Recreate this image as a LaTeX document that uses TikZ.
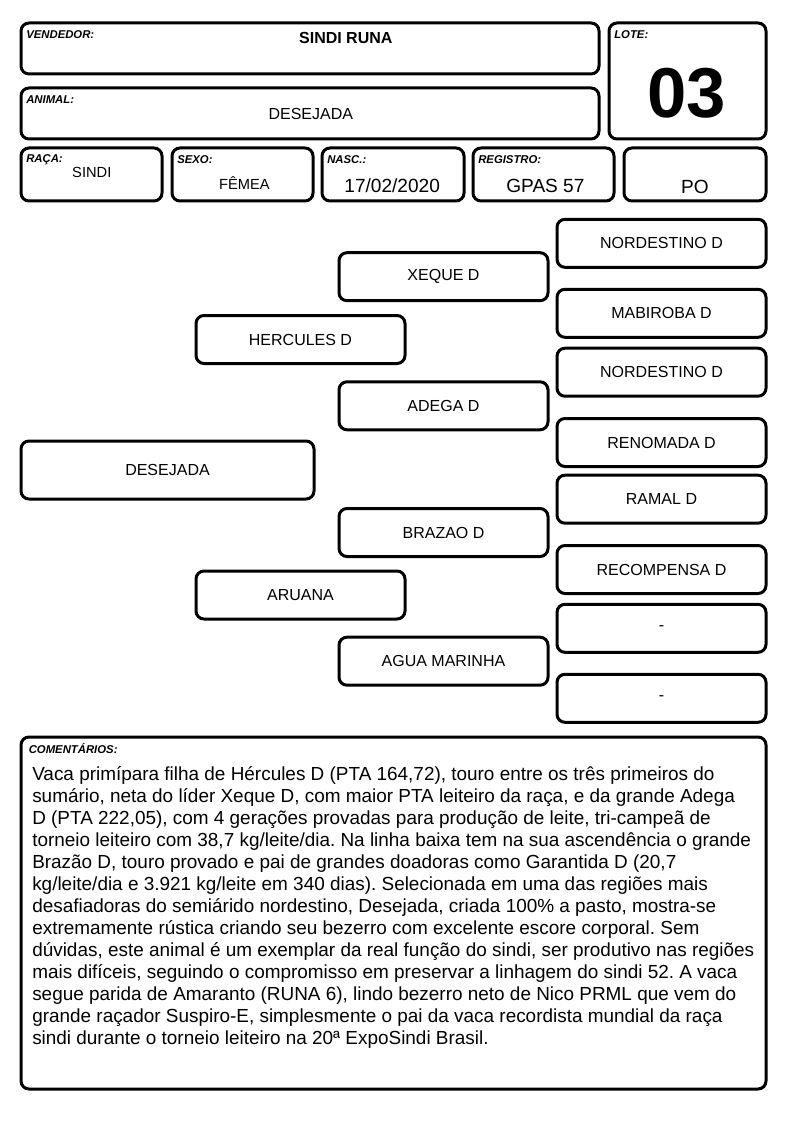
\documentclass[tikz,border=0pt]{standalone}
\usepackage{fontspec}
\setmainfont{Liberation Sans}
\usetikzlibrary{positioning}
\frenchspacing

\begin{document}
\begin{tikzpicture}[x=0.75pt, y=-0.75pt,
    every node/.style={inner sep=0pt},
    cell/.style={draw, line width=2.25pt, rounded corners=6pt},
    wh/.style 2 args={minimum width=#1*0.75pt, minimum height=#2*0.75pt},
    tag/.style={anchor=west, font=\fontsize{8.5}{10}\selectfont\bfseries\itshape},
    val/.style={anchor=base, font=\fontsize{14.3}{17}\selectfont},
    pedbox/.style={cell, wh={209}{48}, font=\fontsize{12}{14}\selectfont}]
        \useasboundingbox (0,0) rectangle (794,1123);

        % Header boxes
        \node[cell, wh={578}{51}] (vendedor) at (310,48.5) {};
        \node[cell, wh={157}{116}] (lote) at (687.5,81) {};
        \node[cell, wh={578}{51}] (animal) at (310,113.5) {};
        \node[cell, wh={141}{53}] (raca) at (91.5,174.5) {};
        \node[cell, wh={141}{53}] (sexo) at (242.5,174.5) {};
        \node[cell, wh={142}{53}] (nasc) at (393,174.5) {};
        \node[cell, wh={141}{53}] (registro) at (543.5,174.5) {};
        \node[cell, wh={142}{53}] (categoria) at (695,174.5) {};

        % Field titles in the upper left corner of each box
        \foreach \b/\t in {vendedor/VENDEDOR:, lote/LOTE:, animal/ANIMAL:, raca/RAÇA:, sexo/SEXO:, nasc/NASC.:, registro/REGISTRO:} {
            \node[tag] (\b-tag) at ([shift={(6.5,13.5)}]\b.north west) {\t};
        }

        % Field values
        \node[val, font=\fontsize{12}{14}\selectfont\bfseries] (vendedor-val) at (345.8,43.2) {SINDI RUNA};
        \node[val, font=\fontsize{12}{14}\selectfont] (animal-val) at (310.8,119.7) {DESEJADA};
        \node[val, font=\fontsize{53}{60}\selectfont\bfseries] (lote-val) at (687,118) {03};
        \node[val, font=\fontsize{11}{13}\selectfont] (raca-val) at (91.8,178) {SINDI};
        \node[val, font=\fontsize{11}{13}\selectfont] (sexo-val) at (244.3,189.3) {FÊMEA};
        \node[val] (nasc-val) at (392.2,193) {17/02/2020};
        \node[val] (registro-val) at (545.4,193) {GPAS 57};
        \node[val] (categoria-val) at (695,193.5) {PO};

        % Pedigree: animal, parents, grandparents
        \node[pedbox, wh={293}{58}] (filha) at (167.5,470) {DESEJADA};
        \node[pedbox] (pai) at (300.5,339.5) {HERCULES D};
        \node[pedbox] (mae) at (300.5,595) {ARUANA};
        \node[pedbox] (pai-pai) at (443.5,276.7) {XEQUE D};
        \node[pedbox] (pai-mae) at (443.5,405.8) {ADEGA D};
        \node[pedbox] (mae-pai) at (443.5,532.5) {BRAZAO D};
        \node[pedbox] (mae-mae) at (443.5,661.2) {AGUA MARINHA};

        % Great-grandparents
        \foreach \n/\y/\t in {ppp/243.3/NORDESTINO D, ppm/313.3/MABIROBA D, pmp/372.2/NORDESTINO D, pmm/442.5/RENOMADA D,
                              mpp/499.2/RAMAL D, mpm/569.5/RECOMPENSA D, mmp/628.3/-, mmm/698.3/-} {
            \node[pedbox] (\n) at (661.5,\y) {\t};
        }

        % Comments
        \node[cell, wh={745}{352}] (comentarios) at (393.5,913) {};
        \node[tag] (comentarios-tag) at ([shift={(9,13)}]comentarios.north west) {COMENTÁRIOS:};
        \node[anchor=north west, align=left, font=\fontsize{14.2}{16.5}\selectfont] (comentarios-txt) at (32,766.5) {%
            Vaca primípara filha de Hércules D (PTA 164,72), touro entre os três primeiros do\\
            sumário, neta do líder Xeque D, com maior PTA leiteiro da raça, e da grande Adega\\
            D (PTA 222,05), com 4 gerações provadas para produção de leite, tri-campeã de\\
            torneio leiteiro com 38,7 kg/leite/dia. Na linha baixa tem na sua ascendência o grande\\
            Brazão D, touro provado e pai de grandes doadoras como Garantida D (20,7\\
            kg/leite/dia e 3.921 kg/leite em 340 dias). Selecionada em uma das regiões mais\\
            desafiadoras do semiárido nordestino, Desejada, criada 100\% a pasto, mostra-se\\
            extremamente rústica criando seu bezerro com excelente escore corporal. Sem\\
            dúvidas, este animal é um exemplar da real função do sindi, ser produtivo nas regiões\\
            mais difíceis, seguindo o compromisso em preservar a linhagem do sindi 52. A vaca\\
            segue parida de Amaranto (RUNA 6), lindo bezerro neto de Nico PRML que vem do\\
            grande raçador Suspiro-E, simplesmente o pai da vaca recordista mundial da raça\\
            sindi durante o torneio leiteiro na 20ª ExpoSindi Brasil.};
\end{tikzpicture}
\end{document}
